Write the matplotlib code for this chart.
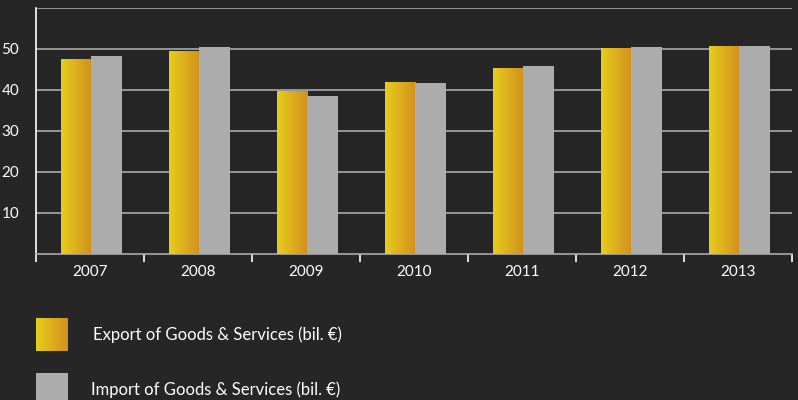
import numpy as np
import matplotlib
matplotlib.use("Agg")
import matplotlib.pyplot as plt
from matplotlib.colors import LinearSegmentedColormap

years = ["2007", "2008", "2009", "2010", "2011", "2012", "2013"]
exports = [47.5, 49.5, 39.7, 41.9, 45.3, 50.2, 50.7]
imports = [48.3, 50.5, 38.5, 41.7, 45.8, 50.5, 50.7]
labels = ["Export of Goods & Services (bil. €)", "Import of Goods & Services (bil. €)"]

bg = "#262626"
grey = "#acacac"
gold = LinearSegmentedColormap.from_list("gold", ["#e6cd1b", "#d3901f"])
grad = np.linspace(0, 1, 64).reshape(1, -1)

plt.rcParams["font.family"] = ["Lato", "DejaVu Sans"]

fig = plt.figure(figsize=(7.98, 4.0), dpi=100, facecolor=bg)
W, H = 798, 400
ax = fig.add_axes([36 / W, 1 - 253.6 / H, 756 / W, (253.6 - 8) / H])
ax.set_facecolor(bg)

x = np.arange(len(years)) + 0.012
w = 0.283

for yv in range(10, 61, 10):
    ax.axhline(yv, color="#a9a9a9", lw=1.2, zorder=1)

ex_bars = ax.bar(x - w / 2, exports, w, color="none", zorder=2)
for b in ex_bars:
    x0, y0 = b.get_x(), b.get_y()
    ax.imshow(grad, cmap=gold, aspect="auto", zorder=3,
              extent=[x0, x0 + b.get_width(), y0, y0 + b.get_height()])
ax.bar(x + w / 2, imports, w, color=grey, zorder=3)
ax.set_xlim(-0.5, len(years) - 0.5)
ax.set_ylim(0, 60)

for s in ["top", "right"]:
    ax.spines[s].set_visible(False)
ax.spines["left"].set_color("white")
ax.spines["left"].set_linewidth(1.2)
ax.spines["bottom"].set_color("#a9a9a9")
ax.spines["bottom"].set_linewidth(1.2)

ax.set_xticks(np.arange(-0.5, len(years), 1))
ax.set_xticklabels([])
ax.tick_params(axis="x", which="major", length=6, width=1.2, color="white", direction="out")
ax.set_xticks(np.arange(len(years)), minor=True)
ax.set_xticklabels(years, minor=True)
ax.tick_params(axis="x", which="minor", length=0, pad=8, labelsize=11, labelcolor="white")

ax.set_yticks([10, 20, 30, 40, 50])
ax.tick_params(axis="y", length=0, pad=12, labelsize=11, labelcolor="white")

# legend
for i, lab in enumerate(labels):
    top = 318 + i * 55
    lax = fig.add_axes([36 / W, 1 - (top + 33) / H, 32 / W, 33 / H])
    lax.axis("off")
    if i == 0:
        lax.imshow(grad, cmap=gold, aspect="auto", extent=[0, 1, 0, 1])
    else:
        lax.imshow([[1]], cmap=LinearSegmentedColormap.from_list("g", [grey, grey]),
                   aspect="auto", extent=[0, 1, 0, 1])
    fig.text((93 - 2 * i) / W, 1 - (top + 17) / H, lab, color="white",
             fontsize=12, va="center", ha="left")

fig.savefig("out.png", dpi=100, facecolor=bg)
